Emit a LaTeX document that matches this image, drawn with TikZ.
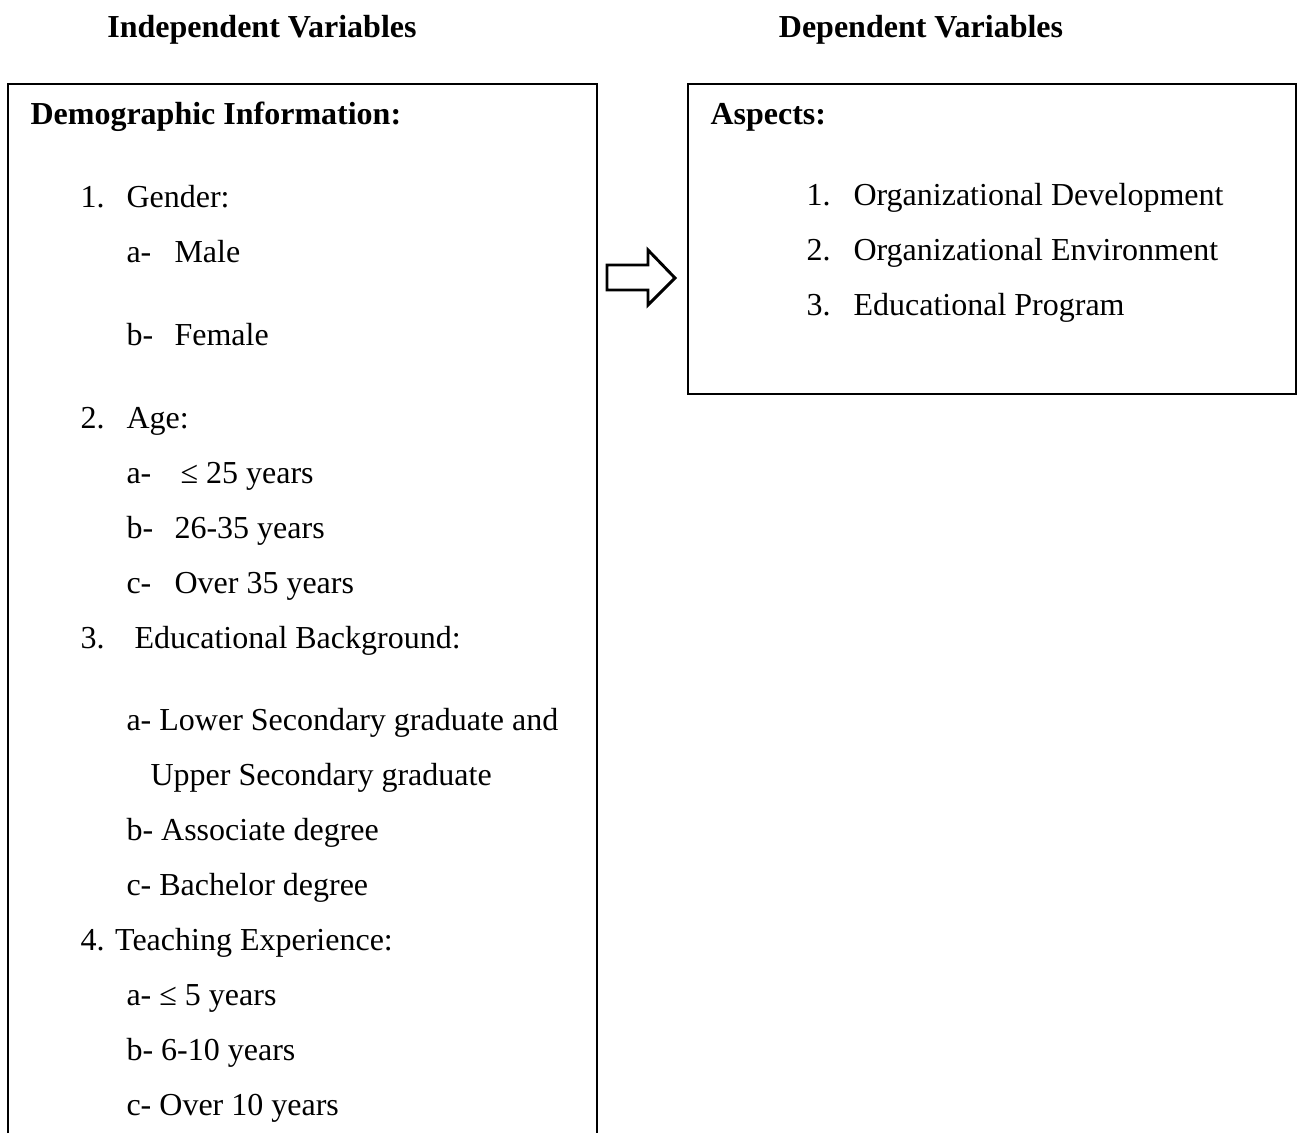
\documentclass[tikz,border=0pt]{standalone}
\usepackage{fontspec}
\setmainfont{Liberation Serif}
\usepackage{tikz}
\usetikzlibrary{positioning}

\begin{document}
\begin{tikzpicture}[x=0.375pt, y=-0.375pt, font=\fontsize{12}{14}\selectfont,
  txt/.style={anchor=base west, inner sep=0pt},
  head/.style={anchor=base, inner sep=0pt, font=\fontsize{12}{14}\selectfont\bfseries},
  frame/.style={draw=black, line width=0.75pt},
  blockarrow/.style={draw=black, line width=1.1pt, miter limit=4}]
\useasboundingbox (0,0) rectangle (1300,1133);
\node[head] (indep) at (262,37) {Independent Variables};
\node[head] (dep) at (921,37) {Dependent Variables};
% frames
\draw[frame] (8,1133) -- (8,84) -- (597,84) -- (597,1133);
\draw[frame] (688,84) rectangle (1296,394);
% independent side
\node[txt, font=\fontsize{12}{14}\selectfont\bfseries] (demo) at (30,124) {Demographic Information:};
\node[txt] (n1) at (80,207) {1.};
\node[txt] (gender) at (126,207) {Gender:};
\node[txt] (g1) at (126,262) {a-};
\node[txt] (male) at (174,262) {Male};
\node[txt] (g2) at (126,345) {b-};
\node[txt] (female) at (174,345) {Female};
\node[txt] (n2) at (80,428) {2.};
\node[txt] (age) at (126,428) {Age:};
\node[txt] (a1) at (126,483) {a-};
\node[txt] (young) at (180,483) {≤ 25 years};
\node[txt] (a2) at (126,538) {b-};
\node[txt] (mid) at (174,538) {26-35 years};
\node[txt] (a3) at (126,593) {c-};
\node[txt] (old) at (174,593) {Over 35 years};
\node[txt] (n3) at (80,648) {3.};
\node[txt] (edu) at (134,648) {Educational Background:};
\node[txt] (e1) at (126,730) {a- Lower Secondary graduate and};
\node[txt] (e1b) at (150,785) {Upper Secondary graduate};
\node[txt] (e2) at (126,840) {b- Associate degree};
\node[txt] (e3) at (126,895) {c- Bachelor degree};
\node[txt] (teach) at (80,950) {4. Teaching Experience:};
\node[txt] (t1) at (126,1005) {a- ≤ 5 years};
\node[txt] (t2) at (126,1060) {b- 6-10 years};
\node[txt] (t3) at (126,1115) {c- Over 10 years};
% dependent side
\node[txt, font=\fontsize{12}{14}\selectfont\bfseries] (asp) at (710,124) {Aspects:};
\node[txt] (m1) at (806,205) {1.};
\node[txt] (orgdev) at (853,205) {Organizational Development};
\node[txt] (m2) at (806,260) {2.};
\node[txt] (orgenv) at (853,260) {Organizational Environment};
\node[txt] (m3) at (806,315) {3.};
\node[txt] (eduprog) at (853,315) {Educational Program};
% hollow arrow between the frames
\draw[blockarrow] (607,265) -- (648,265) -- (648,250) -- (675,278) -- (648,305) -- (648,290) -- (607,290) -- cycle;
\end{tikzpicture}
\end{document}
